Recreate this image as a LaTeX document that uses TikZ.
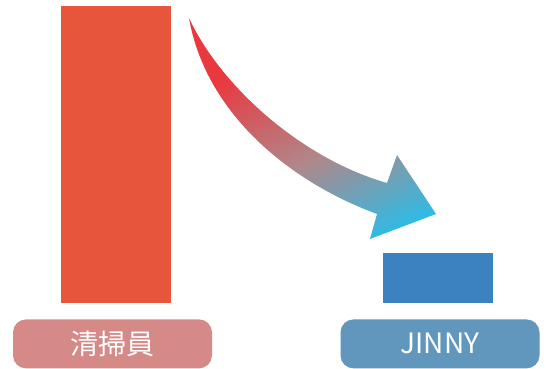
\documentclass[tikz,border=0pt]{standalone}
\usepackage{fontspec}
\newfontfamily\cjk{Noto Sans CJK JP}
\usepackage{tikz}
\usetikzlibrary{positioning}
\definecolor{barred}{HTML}{E8553D}
\definecolor{barblue}{HTML}{3A82C0}
\definecolor{tagred}{HTML}{D68A88}
\definecolor{tagblue}{HTML}{6197BC}
\definecolor{arrowred}{HTML}{E8393F}
\definecolor{arrowgrey}{HTML}{B0878A}
\definecolor{arrowcyan}{HTML}{22C0EE}
\pgfdeclareverticalshading{arrowfade}{100bp}{color(0bp)=(arrowcyan); color(20bp)=(arrowcyan); color(44bp)=(arrowgrey); color(68bp)=(arrowred); color(100bp)=(arrowred)}
\tikzset{
  bar/.style = {rectangle, inner sep=0pt, minimum width=110pt},
  tag/.style = {rectangle, rounded corners=13pt, inner sep=0pt, minimum width=199pt, minimum height=49pt, text=white, font=\cjk\fontsize{28}{30}\selectfont},
}
\begin{document}
\begin{tikzpicture}[x=1pt, y=-1pt]
\useasboundingbox (0,0) rectangle (547,369);
\node [bar, fill=barred, minimum height=297pt] (cleaner) at (116,154.5) {};
\node [bar, fill=barblue, minimum height=50pt] (jinny) at (438,278) {};
\node [tag, fill=tagred, below=16pt of cleaner, xshift=-3.5pt] (Lcleaner) {清掃員};
\node [tag, fill=tagblue, below=16pt of jinny, xshift=2pt] (Ljinny) {JINNY};
% curved arrow, red to cyan
\shade [shading=arrowfade, shading angle=25]
  (189,18) .. controls (220,85) and (300,158) .. (387,183)
  -- (397,155) -- (436,214) -- (370,239) -- (377,214)
  .. controls (285,180) and (205,110) .. (189,18) -- cycle;
\end{tikzpicture}
\end{document}
